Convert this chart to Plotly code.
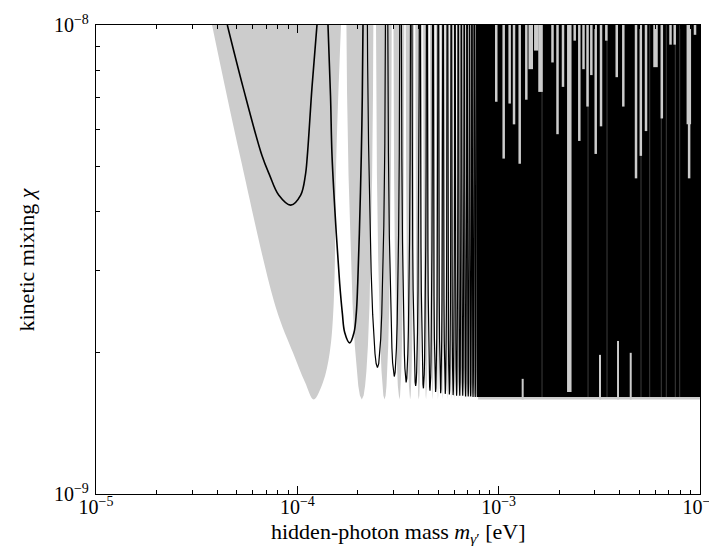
import numpy as np
import plotly.graph_objects as go

# ---------------- data ----------------
# grey sensitivity region: first dip traced point by point
gray_dip1_mass = [3.77e-5, 5.19e-5, 7.84e-5, 9.52e-5, 1.092e-4, 1.206e-4,
                  1.341e-4, 1.448e-4, 1.516e-4, 1.562e-4, 1.648e-4]
gray_dip1_chi = [1.0e-8, 5.26e-9, 2.49e-9, 2.00e-9, 1.73e-9, 1.59e-9,
                 1.73e-9, 2.00e-9, 2.55e-9, 5.26e-9, 1.0e-8]

# grey dips 2.. : position of each minimum and its depth
gray_dip_center = [2.09e-4, 2.71e-4, 3.21e-4, 3.63e-4, 4.01e-4, 4.36e-4,
                   4.69e-4, 4.99e-4, 5.27e-4, 5.55e-4, 5.80e-4, 6.05e-4,
                   6.29e-4, 6.52e-4, 6.74e-4, 6.95e-4, 7.16e-4, 7.36e-4,
                   7.55e-4, 7.74e-4, 7.93e-4]
gray_dip_min = [1.59e-9, 1.59e-9, 1.59e-9, 1.59e-9, 1.59e-9, 1.59e-9,
                1.59e-9, 1.59e-9, 1.59e-9, 1.59e-9, 1.59e-9, 1.59e-9,
                1.59e-9, 1.59e-9, 1.59e-9, 1.59e-9, 1.59e-9, 1.59e-9,
                1.59e-9, 1.59e-9, 1.59e-9]

# black curve: first two dips traced point by point
black_dip1_mass = [4.49e-5, 5.37e-5, 6.68e-5, 7.29e-5, 8.08e-5, 9.27e-5,
                   1.039e-4, 1.096e-4, 1.121e-4, 1.183e-4, 1.252e-4]
black_dip1_chi = [1.0e-8, 7.38e-9, 5.26e-9, 4.78e-9, 4.34e-9, 4.13e-9,
                  4.34e-9, 4.78e-9, 5.26e-9, 7.38e-9, 1.0e-8]
black_dip2_mass = [1.420e-4, 1.462e-4, 1.487e-4, 1.562e-4, 1.623e-4, 1.673e-4,
                   1.719e-4, 1.820e-4, 1.912e-4, 1.963e-4, 1.995e-4, 2.032e-4,
                   2.078e-4, 2.102e-4, 2.119e-4]
black_dip2_chi = [1.0e-8, 7.03e-9, 5.26e-9, 3.58e-9, 2.81e-9, 2.43e-9,
                  2.21e-9, 2.10e-9, 2.21e-9, 2.43e-9, 2.81e-9, 3.58e-9,
                  5.26e-9, 7.03e-9, 1.0e-8]

# black dips 3.. : minimum position and depth
black_dip_center = [2.50e-4, 3.03e-4, 3.47e-4, 3.87e-4, 4.23e-4, 4.56e-4,
                    4.86e-4, 5.15e-4, 5.43e-4, 5.69e-4, 5.94e-4, 6.18e-4,
                    6.41e-4, 6.63e-4, 6.85e-4, 7.06e-4, 7.26e-4, 7.46e-4,
                    7.65e-4, 7.84e-4]
black_dip_min = [1.86e-9, 1.78e-9, 1.73e-9, 1.70e-9, 1.68e-9, 1.66e-9,
                 1.65e-9, 1.64e-9, 1.635e-9, 1.63e-9, 1.625e-9, 1.62e-9,
                 1.62e-9, 1.62e-9, 1.615e-9, 1.615e-9, 1.615e-9, 1.61e-9,
                 1.61e-9, 1.61e-9]

# shape of one dip (read from the resolved dips): chi/chi_min versus
# fraction of the half-spacing to the neighbouring dip
dip_profile_ratio = [1.0, 1.02, 1.07, 1.15, 1.3, 1.6, 2.0, 3.0, 4.5, 7.0, 12.0]
dip_profile_offset = [0.0, 0.127, 0.231, 0.328, 0.441, 0.571, 0.667, 0.784,
                      0.858, 0.909, 0.947]

# unresolved (dense) part of both curves
dense_mass = [7.9e-4, 1.0e-2]
dense_gray_floor = 1.59e-9
dense_black_floor = 1.61e-9
chi_top = 1.0e-8

# gaps in the dense black band through which the grey shows (from the top)
streak_mass = [9.73e-4, 1.059e-3, 1.134e-3, 1.192e-3, 1.272e-3, 1.372e-3,
               1.851e-3, 1.960e-3, 2.087e-3, 2.386e-3, 2.515e-3, 2.639e-3,
               2.763e-3, 2.886e-3, 3.034e-3, 3.224e-3, 3.426e-3, 3.859e-3,
               4.160e-3, 4.811e-3, 5.082e-3, 5.393e-3, 6.461e-3, 7.137e-3,
               7.488e-3, 8.83e-3, 9.445e-3]
streak_bottom = [6.86e-9, 5.19e-9, 6.80e-9, 6.14e-9, 5.06e-9, 6.93e-9,
                 8.32e-9, 5.85e-9, 7.38e-9, 9.26e-9, 5.66e-9, 8.05e-9,
                 6.70e-9, 7.82e-9, 5.31e-9, 6.08e-9, 9.26e-9, 7.74e-9,
                 6.70e-9, 4.71e-9, 5.26e-9, 5.94e-9, 6.32e-9, 9.08e-9,
                 9.08e-9, 4.71e-9, 9.53e-9]
wide_streak_mass = [1.443e-3, 1.538e-3, 1.614e-3, 2.243e-3, 6.012e-3, 8.80e-3]
wide_streak_bottom = [8.05e-9, 8.82e-9, 7.20e-9, 1.65e-9, 8.13e-9, 6.14e-9]
# light spikes rising from the floor
spike_mass = [1.316e-3, 3.187e-3, 3.916e-3, 4.528e-3]
spike_top = [1.76e-9, 1.98e-9, 2.12e-9, 2.00e-9]
# faint dark-grey lines inside the black band
faint_mass = [1.642e-3, 2.779e-3, 3.453e-3, 5.093e-3, 5.625e-3, 6.424e-3,
              6.803e-3, 7.540e-3, 7.927e-3]

x_ticks = [1e-5, 1e-4, 1e-3, 1e-2]
x_tick_text = ["10<sup>−5</sup>", "10<sup>−4</sup>", "10<sup>−3</sup>", "10<sup>−2</sup>"]
y_ticks = [1e-9, 1e-8]
y_tick_text = ["10<sup>−9</sup>", "10<sup>−8</sup>"]
x_title = "hidden-photon mass <i>m</i><sub><i>γ</i>′</sub> [eV]"
y_title = "kinetic mixing <i>χ</i>"

# ---------------- building the traces ----------------
GRAY = "#cccccc"


def dip_path(centers, minima, prev_center):
    xs, ys = [], []
    for i, (c, mn) in enumerate(zip(centers, minima)):
        p = centers[i - 1] if i > 0 else prev_center
        n = centers[i + 1] if i + 1 < len(centers) else None
        left = c ** 2 - (p ** 2 + c ** 2) / 2.0
        right = ((c ** 2 + n ** 2) / 2.0 - c ** 2) if n is not None else left
        for f, r in zip(dip_profile_offset[::-1], dip_profile_ratio[::-1]):
            xs.append(np.sqrt(c ** 2 - f * left))
            ys.append(mn * r)
        for f, r in zip(dip_profile_offset[1:], dip_profile_ratio[1:]):
            xs.append(np.sqrt(c ** 2 + f * right))
            ys.append(mn * r)
        xs.append(None)
        ys.append(None)
    return xs, ys


def vsegs(xs, y0s, y1s):
    X, Y = [], []
    for x, a, b in zip(xs, y0s, y1s):
        X += [x, x, None]
        Y += [a, b, None]
    return X, Y


fig = go.Figure()

# grey region
fig.add_trace(go.Scatter(x=gray_dip1_mass, y=gray_dip1_chi, mode="lines",
                         line=dict(width=0, color=GRAY, shape="spline"),
                         fill="toself", fillcolor=GRAY, hoverinfo="skip"))
gx, gy = dip_path(gray_dip_center, gray_dip_min, gray_dip1_mass[5])
fig.add_trace(go.Scatter(x=gx, y=gy, mode="lines", line=dict(width=0, color=GRAY),
                         fill="toself", fillcolor=GRAY, hoverinfo="skip"))
fig.add_trace(go.Scatter(x=[dense_mass[0], dense_mass[1] * 1.2, dense_mass[1] * 1.2, dense_mass[0]],
                         y=[dense_gray_floor, dense_gray_floor, chi_top * 1.3, chi_top * 1.3],
                         mode="lines", line=dict(width=0, color=GRAY),
                         fill="toself", fillcolor=GRAY, hoverinfo="skip"))

# black curve
for mx, cy in [(black_dip1_mass, black_dip1_chi), (black_dip2_mass, black_dip2_chi)]:
    fig.add_trace(go.Scatter(x=mx, y=cy, mode="lines",
                             line=dict(width=1.6, color="black", shape="spline"),
                             hoverinfo="skip"))
bx, by = dip_path(black_dip_center, black_dip_min, black_dip2_mass[7])
fig.add_trace(go.Scatter(x=bx, y=by, mode="lines", line=dict(width=1.2, color="black"),
                         hoverinfo="skip"))
fig.add_trace(go.Scatter(x=[dense_mass[0] - 1e-5, dense_mass[1] * 1.2, dense_mass[1] * 1.2, dense_mass[0] - 1e-5],
                         y=[dense_black_floor, dense_black_floor, chi_top * 1.3, chi_top * 1.3],
                         mode="lines", line=dict(width=0, color="black"),
                         fill="toself", fillcolor="black", hoverinfo="skip"))

fx, fy = vsegs(faint_mass, [chi_top * 1.3] * len(faint_mass), [dense_black_floor] * len(faint_mass))
fig.add_trace(go.Scatter(x=fx, y=fy, mode="lines", line=dict(width=1, color="#3c3c3c"),
                         hoverinfo="skip"))
sx, sy = vsegs(streak_mass, [chi_top * 1.3] * len(streak_mass), streak_bottom)
fig.add_trace(go.Scatter(x=sx, y=sy, mode="lines", line=dict(width=2.5, color=GRAY),
                         hoverinfo="skip"))
wx, wy = vsegs(wide_streak_mass, [chi_top * 1.3] * len(wide_streak_mass), wide_streak_bottom)
fig.add_trace(go.Scatter(x=wx, y=wy, mode="lines", line=dict(width=4.5, color=GRAY),
                         hoverinfo="skip"))
px_, py_ = vsegs(spike_mass, [dense_gray_floor] * len(spike_mass), spike_top)
fig.add_trace(go.Scatter(x=px_, y=py_, mode="lines", line=dict(width=2, color=GRAY),
                         hoverinfo="skip"))

FONT = "Liberation Serif"
axis_common = dict(type="log", showgrid=False, zeroline=False, showline=True,
                   linecolor="black", linewidth=1.3, mirror="allticks",
                   ticks="inside", ticklen=8, tickwidth=1, tickcolor="black",
                   tickmode="array", automargin=False,
                   tickfont=dict(family=FONT, size=20, color="black"),
                   minor=dict(ticks="inside", ticklen=4, tickwidth=0.8,
                              tickcolor="black", dtick="D1", showgrid=False))

fig.update_layout(
    width=717, height=546,
    margin=dict(l=88, r=25, t=17, b=60),
    paper_bgcolor="white", plot_bgcolor="white",
    showlegend=False,
    xaxis=dict(range=[np.log10(x_ticks[0]), np.log10(x_ticks[-1])],
               tickvals=x_ticks, ticktext=x_tick_text, ticklabelstandoff=-5,
               **axis_common),
    yaxis=dict(range=[np.log10(y_ticks[0]), np.log10(y_ticks[-1])],
               tickvals=y_ticks, ticktext=y_tick_text, ticklabelstandoff=2,
               **axis_common),
    annotations=[
        dict(text=x_title, xref="paper", yref="paper", x=0.5, y=0,
             xanchor="center", yanchor="top", yshift=-24, showarrow=False,
             borderpad=0, font=dict(family=FONT, size=22, color="black")),
        dict(text=y_title, xref="paper", yref="paper", x=0, y=0.5,
             xanchor="center", yanchor="middle", xshift=-70, textangle=-90,
             showarrow=False, font=dict(family=FONT, size=22, color="black")),
    ],
)

fig.write_html("out.html")
